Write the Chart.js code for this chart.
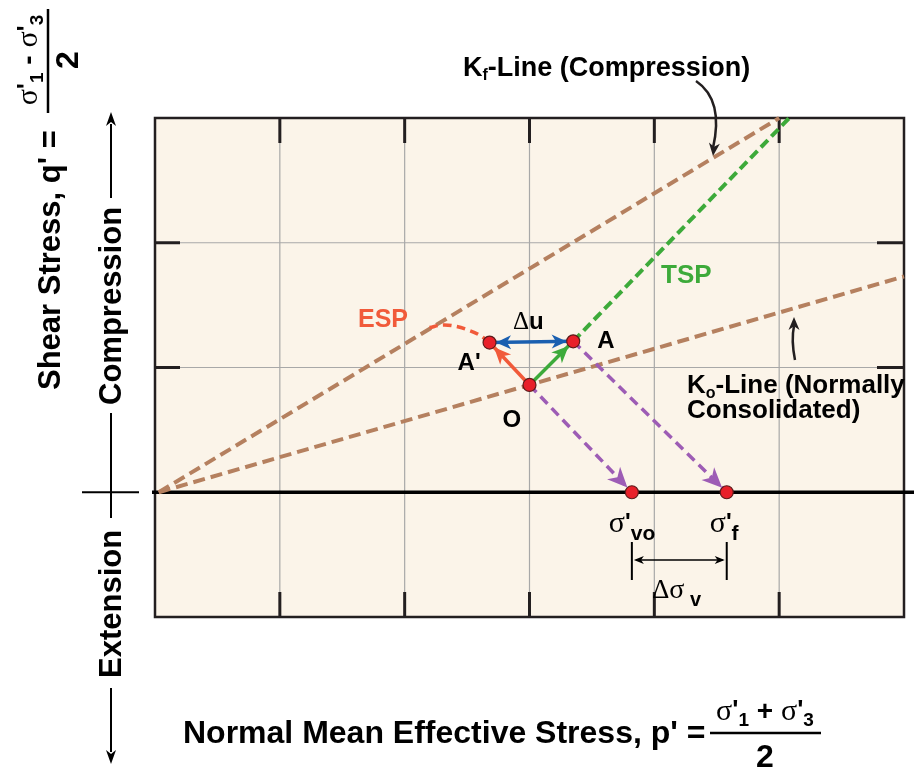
<!DOCTYPE html>
<html><head><meta charset="utf-8">
<script src="https://cdn.jsdelivr.net/npm/chart.js@4.4.0/dist/chart.umd.min.js"></script>
<style>html,body{margin:0;padding:0;background:#fff;}canvas{display:block;}</style>
</head><body>
<div style="width:914px;height:768px"><canvas id="c" width="914" height="768"></canvas></div>
<script>
// ---- data (p' = x, q' = y, in grid units) ----
const gridP = [1, 2, 3, 4, 5];
const gridQ = [1, 2];
const kfP = [0.03, 5.0];
const kfQ = [0.0, 3.0];
const k0P = [0.03, 6.0];
const k0Q = [0.0, 1.73];
const stateLabels = ["O", "A", "A'"];
const stateP = [3.0, 3.35, 2.68];
const stateQ = [0.86, 1.21, 1.20];
const espCurveP = [2.68, 2.60, 2.51, 2.41, 2.30, 2.20];
const espCurveQ = [1.20, 1.26, 1.30, 1.33, 1.34, 1.32];
const tspEndP = [5.10];
const tspEndQ = [3.02];
const sigmaLabels = ["vo", "f"];
const sigmaP = [3.82, 4.58];
const sigmaQ = [0, 0];

const pts = (ps, qs) => ps.map((p, i) => ({x: p, y: qs[i]}));
const O = {x: stateP[0], y: stateQ[0]};
const A = {x: stateP[1], y: stateQ[1]};
const A2 = {x: stateP[2], y: stateQ[2]};
const SV = {x: sigmaP[0], y: sigmaQ[0]};
const SF = {x: sigmaP[1], y: sigmaQ[1]};

const BROWN = '#b5805f', GREEN = '#3daa3a', PURPLE = '#9d5cb5', ORANGE = '#f15a3a', BLUE = '#1a5fb0', RED = '#e8202a';
const B = n => `bold ${n}px "Liberation Sans", Arial, sans-serif`;
const S = n => `${n}px "Liberation Serif", "Times New Roman", serif`;

function line(data, color, width, dash, order, tension) {
  return {type: 'line', data, borderColor: color, borderWidth: width, borderDash: dash || [],
    pointRadius: 0, fill: false, showLine: true, clip: false, order, tension: tension || 0, borderCapStyle: 'butt'};
}

function head(ctx, x1, y1, x2, y2, back, len, hw, color) {
  const a = Math.atan2(y2 - y1, x2 - x1);
  const tx = x2 - back * Math.cos(a), ty = y2 - back * Math.sin(a);
  ctx.save(); ctx.translate(tx, ty); ctx.rotate(a);
  ctx.beginPath(); ctx.moveTo(0, 0); ctx.lineTo(-len, -hw); ctx.lineTo(-len * 0.72, 0); ctx.lineTo(-len, hw); ctx.closePath();
  ctx.fillStyle = color; ctx.fill(); ctx.restore();
}
function runs(ctx, x, y, parts, align) {
  let w = 0;
  parts.forEach(p => { ctx.font = p[1]; w += ctx.measureText(p[0]).width; });
  let cx = align === 'center' ? x - w / 2 : x;
  parts.forEach(p => { ctx.font = p[1]; ctx.fillStyle = p[3] || ctx.fillStyle; ctx.fillText(p[0], cx, y + (p[2] || 0)); cx += ctx.measureText(p[0]).width; });
  return w;
}
function seg(ctx, x1, y1, x2, y2, w, color) {
  ctx.beginPath(); ctx.moveTo(x1, y1); ctx.lineTo(x2, y2); ctx.lineWidth = w; ctx.strokeStyle = color; ctx.stroke();
}

const backPlugin = {
  id: 'back',
  beforeDatasetsDraw(chart) {
    const {ctx, chartArea: ca, scales: {x, y}} = chart;
    ctx.save();
    ctx.fillStyle = '#fbf4e9';
    ctx.fillRect(ca.left, ca.top, ca.right - ca.left, ca.bottom - ca.top);
    gridP.forEach(v => seg(ctx, x.getPixelForValue(v), ca.top, x.getPixelForValue(v), ca.bottom, 1.2, '#a8a8a8'));
    gridQ.forEach(v => seg(ctx, ca.left, y.getPixelForValue(v), ca.right, y.getPixelForValue(v), 1.2, '#a8a8a8'));
    // tick marks
    gridP.forEach(v => {
      const px = x.getPixelForValue(v);
      seg(ctx, px, ca.top, px, ca.top + 25, 3, '#231f20');
      seg(ctx, px, ca.bottom, px, ca.bottom - 25, 3, '#231f20');
    });
    gridQ.forEach(v => {
      const py = y.getPixelForValue(v);
      seg(ctx, ca.left, py, ca.left + 25, py, 3, '#231f20');
      seg(ctx, ca.right, py, ca.right - 27, py, 3, '#231f20');
    });
    ctx.lineWidth = 2.5; ctx.strokeStyle = '#231f20';
    ctx.strokeRect(ca.left, ca.top, ca.right - ca.left, ca.bottom - ca.top);
    // zero axis
    const y0 = y.getPixelForValue(0);
    seg(ctx, ca.left - 3, y0, chart.width, y0, 3.5, '#000');
    ctx.restore();
  }
};

const annoPlugin = {
  id: 'anno',
  afterDatasetsDraw(chart) {
    const {ctx, scales: {x, y}} = chart;
    const P = d => [x.getPixelForValue(d.x), y.getPixelForValue(d.y)];
    const [ox, oy] = P(O), [ax, ay] = P(A), [a2x, a2y] = P(A2), [vx, vy] = P(SV), [fx, fy] = P(SF);
    ctx.save();
    // arrowheads
    head(ctx, ox, oy, ax, ay, 6.5, 17, 7.5, GREEN);
    head(ctx, ox, oy, a2x, a2y, 6.5, 17, 7.5, ORANGE);
    head(ctx, a2x, a2y, ax, ay, 6.5, 15, 7, BLUE);
    head(ctx, ax, ay, a2x, a2y, 6.5, 15, 7, BLUE);
    head(ctx, ox, oy, vx, vy, 6.5, 20, 9, PURPLE);
    head(ctx, ax, ay, fx, fy, 6.5, 20, 9, PURPLE);
    ctx.restore();
  },
  afterDraw(chart) {
    const {ctx, scales: {x, y}} = chart;
    const P = d => [x.getPixelForValue(d.x), y.getPixelForValue(d.y)];
    const [ox, oy] = P(O), [ax, ay] = P(A), [a2x, a2y] = P(A2), [vx, vy] = P(SV), [fx, fy] = P(SF);
    const y0 = y.getPixelForValue(0);
    ctx.save();
    ctx.textAlign = 'left'; ctx.textBaseline = 'alphabetic'; ctx.fillStyle = '#000';
    // point labels
    runs(ctx, ax + 24, ay + 7, [[stateLabels[1], B(24)]]);
    runs(ctx, a2x - 32, a2y + 27, [["A'", B(24)]]);
    runs(ctx, ox - 27, oy + 42, [[stateLabels[0], B(24)]]);
    runs(ctx, 513, 329, [['\u0394', S(25)], ['u', B(24), 0]]);
    runs(ctx, 358, 327, [['ESP', B(25), 0, ORANGE]]);
    runs(ctx, 661, 283, [['TSP', B(26), 0, GREEN]]);
    ctx.fillStyle = '#000';
    // sigma labels
    runs(ctx, vx - 23, 532, [['\u03c3', S(30)], ["'", B(24), -2], [sigmaLabels[0], B(21), 8]]);
    runs(ctx, fx - 17, 532, [['\u03c3', S(30)], ["'", B(24), -2], [sigmaLabels[1], B(21), 8]]);
    seg(ctx, vx, 542, vx, 580, 2, '#000');
    seg(ctx, fx, 542, fx, 580, 2, '#000');
    seg(ctx, vx + 4, 560, fx - 4, 560, 1.5, '#000');
    head(ctx, fx, 560, vx + 2, 560, 0, 10, 4, '#000');
    head(ctx, vx, 560, fx - 2, 560, 0, 10, 4, '#000');
    runs(ctx, 652, 598, [['\u0394', S(27)], ['\u03c3', S(28)], [' v', B(20), 8]]);
    // Kf label + curved arrow
    runs(ctx, 463, 76, [['K', B(27)], ['f', B(16), 4], ['-Line (Compression)', B(27)]]);
    ctx.beginPath(); ctx.moveTo(696, 81); ctx.quadraticCurveTo(724, 100, 713, 148);
    ctx.lineWidth = 2.5; ctx.strokeStyle = '#231f20'; ctx.stroke();
    head(ctx, 716, 128, 713, 156, 0, 13, 5.5, '#231f20');
    // K0 label + arrow
    runs(ctx, 687, 393, [['K', B(26)], ['o', B(16), 5], ['-Line (Normally', B(26)]]);
    runs(ctx, 687, 418, [['Consolidated)', B(26)]]);
    ctx.beginPath(); ctx.moveTo(795, 360); ctx.quadraticCurveTo(791, 340, 794, 326);
    ctx.lineWidth = 2.5; ctx.stroke();
    head(ctx, 794, 340, 794, 317, 0, 13, 5.5, '#231f20');
    // x title
    ctx.fillStyle = '#000';
    runs(ctx, 183, 743, [["Normal Mean Effective Stress, p' =", B(32)]]);
    runs(ctx, 765, 720, [['\u03c3', S(30)], ["'", B(26), -2], ['1', B(19), 6], [' + ', B(28)], ['\u03c3', S(30)], ["'", B(26), -2], ['3', B(19), 6]], 'center');
    seg(ctx, 710, 733, 821, 733, 2.5, '#000');
    runs(ctx, 765, 767, [['2', B(32)]], 'center');
    // y title (rotated)
    ctx.save(); ctx.translate(60, 390); ctx.rotate(-Math.PI / 2);
    runs(ctx, 0, 0, [["Shear Stress, q' =", B(31)]]);
    runs(ctx, 330, -23, [['\u03c3', S(30)], ["'", B(26), -2], ['1', B(19), 6], [' - ', B(28)], ['\u03c3', S(30)], ["'", B(26), -2], ['3', B(19), 6]], 'center');
    seg(ctx, 277, -12, 381, -12, 2.5, '#000');
    runs(ctx, 330, 18, [['2', B(32)]], 'center');
    ctx.restore();
    // Compression / Extension side labels
    const lx = 111;
    ctx.save(); ctx.translate(lx + 10, 405); ctx.rotate(-Math.PI / 2);
    runs(ctx, 0, 0, [['Compression', B(31)]]); ctx.restore();
    ctx.save(); ctx.translate(lx + 10, 678); ctx.rotate(-Math.PI / 2);
    runs(ctx, 0, 0, [['Extension', B(31)]]); ctx.restore();
    seg(ctx, lx, 198, lx, 124, 2, '#000'); head(ctx, lx, 200, lx, 112, 0, 14, 5, '#000');
    seg(ctx, lx, 413, lx, 518, 2, '#000');
    seg(ctx, 82, y0, 139, y0, 2, '#000');
    seg(ctx, lx, 688, lx, 752, 2, '#000'); head(ctx, lx, 680, lx, 764, 0, 14, 5, '#000');
    ctx.restore();
  }
};

const chart = new Chart(document.getElementById('c'), {
  type: 'scatter',
  data: {
    datasets: [
      {type: 'scatter', data: [O, A, A2, SV, SF], pointRadius: 6.5, pointBackgroundColor: RED,
        pointBorderColor: '#5c1a1a', pointBorderWidth: 1.2, clip: false, order: 0},
      line([A2, A], BLUE, 3.5, null, 1),
      line([O, A], GREEN, 3.5, null, 2),
      line([O, A2], ORANGE, 3.5, null, 2),
      line([A, {x: tspEndP[0], y: tspEndQ[0]}], GREEN, 4, [10, 5], 3),
      line(pts(espCurveP, espCurveQ), ORANGE, 3.5, [9, 5], 3, 0.4),
      line([O, SV], PURPLE, 3.5, [10, 6], 4),
      line([A, SF], PURPLE, 3.5, [10, 6], 4),
      line(pts(kfP, kfQ), BROWN, 4, [12, 6], 5),
      line(pts(k0P, k0Q), BROWN, 4, [12, 6], 5)
    ]
  },
  options: {
    responsive: false, animation: false, devicePixelRatio: 1,
    layout: {padding: {left: 155, top: 118, right: 10, bottom: 151}},
    scales: {
      x: {type: 'linear', min: 0, max: 6, display: false},
      y: {type: 'linear', min: -1, max: 3, display: false}
    },
    plugins: {legend: {display: false}, tooltip: {enabled: false}}
  },
  plugins: [backPlugin, annoPlugin]
});
</script>
</body></html>
